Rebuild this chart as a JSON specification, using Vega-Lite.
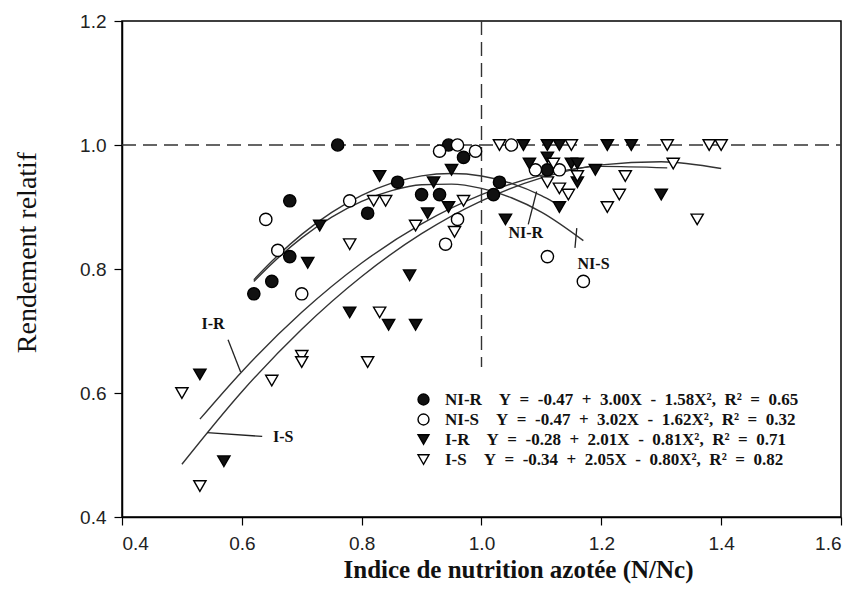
{
  "$schema": "https://vega.github.io/schema/vega-lite/v6.json",
  "width": 719,
  "height": 496,
  "autosize": {"type": "none"},
  "padding": {"left": 122, "top": 21, "right": 18, "bottom": 75},
  "background": "white",
  "config": {
    "view": {"stroke": "black", "strokeWidth": 1.5},
    "axis": {
      "grid": false,
      "domainColor": "black",
      "domainWidth": 1.5,
      "tickColor": "black",
      "tickWidth": 1.2,
      "tickSize": 8,
      "labelFont": "Liberation Sans",
      "labelFontSize": 19,
      "labelColor": "#222",
      "titleFont": "Liberation Serif",
      "titleColor": "#111"
    },
    "legend": {
      "orient": "none", "legendX": 293, "legendY": 370, "padding": 0, "title": null,
      "rowPadding": 2, "symbolSize": 120, "symbolStrokeColor": "black", "symbolStrokeWidth": 1.4,
      "labelFont": "Liberation Serif", "labelFontSize": 17, "labelFontWeight": "bold", "labelColor": "#111",
      "labelOffset": 13, "labelLimit": 600
    }
  },
  "datasets": {
    "pts": [
      {"g": "NI-R", "x": 0.62, "y": 0.76}, {"g": "NI-R", "x": 0.65, "y": 0.78}, {"g": "NI-R", "x": 0.68, "y": 0.82},
      {"g": "NI-R", "x": 0.68, "y": 0.91}, {"g": "NI-R", "x": 0.76, "y": 1.0}, {"g": "NI-R", "x": 0.81, "y": 0.89},
      {"g": "NI-R", "x": 0.86, "y": 0.94}, {"g": "NI-R", "x": 0.9, "y": 0.92}, {"g": "NI-R", "x": 0.93, "y": 0.92},
      {"g": "NI-R", "x": 0.945, "y": 1.0}, {"g": "NI-R", "x": 0.97, "y": 0.98}, {"g": "NI-R", "x": 1.02, "y": 0.92},
      {"g": "NI-R", "x": 1.03, "y": 0.94}, {"g": "NI-R", "x": 1.11, "y": 0.96},
      {"g": "NI-S", "x": 0.64, "y": 0.88}, {"g": "NI-S", "x": 0.66, "y": 0.83}, {"g": "NI-S", "x": 0.7, "y": 0.76},
      {"g": "NI-S", "x": 0.78, "y": 0.91}, {"g": "NI-S", "x": 0.93, "y": 0.99}, {"g": "NI-S", "x": 0.96, "y": 1.0},
      {"g": "NI-S", "x": 0.99, "y": 0.99}, {"g": "NI-S", "x": 0.96, "y": 0.88}, {"g": "NI-S", "x": 0.94, "y": 0.84},
      {"g": "NI-S", "x": 1.05, "y": 1.0}, {"g": "NI-S", "x": 1.09, "y": 0.96}, {"g": "NI-S", "x": 1.13, "y": 0.96},
      {"g": "NI-S", "x": 1.11, "y": 0.82}, {"g": "NI-S", "x": 1.17, "y": 0.78},
      {"g": "I-R", "x": 0.53, "y": 0.63}, {"g": "I-R", "x": 0.57, "y": 0.49}, {"g": "I-R", "x": 0.71, "y": 0.81},
      {"g": "I-R", "x": 0.73, "y": 0.87}, {"g": "I-R", "x": 0.78, "y": 0.73}, {"g": "I-R", "x": 0.845, "y": 0.71},
      {"g": "I-R", "x": 0.89, "y": 0.71}, {"g": "I-R", "x": 0.88, "y": 0.79}, {"g": "I-R", "x": 0.83, "y": 0.95},
      {"g": "I-R", "x": 0.91, "y": 0.89}, {"g": "I-R", "x": 0.92, "y": 0.94}, {"g": "I-R", "x": 0.945, "y": 0.9},
      {"g": "I-R", "x": 0.95, "y": 0.96}, {"g": "I-R", "x": 1.04, "y": 0.88}, {"g": "I-R", "x": 1.07, "y": 1.0},
      {"g": "I-R", "x": 1.08, "y": 0.97}, {"g": "I-R", "x": 1.11, "y": 1.0}, {"g": "I-R", "x": 1.13, "y": 1.0},
      {"g": "I-R", "x": 1.11, "y": 0.98}, {"g": "I-R", "x": 1.15, "y": 0.97}, {"g": "I-R", "x": 1.16, "y": 0.97},
      {"g": "I-R", "x": 1.16, "y": 0.94}, {"g": "I-R", "x": 1.13, "y": 0.9}, {"g": "I-R", "x": 1.19, "y": 0.96},
      {"g": "I-R", "x": 1.21, "y": 1.0}, {"g": "I-R", "x": 1.25, "y": 1.0}, {"g": "I-R", "x": 1.3, "y": 0.92},
      {"g": "I-S", "x": 0.5, "y": 0.6}, {"g": "I-S", "x": 0.53, "y": 0.45}, {"g": "I-S", "x": 0.65, "y": 0.62},
      {"g": "I-S", "x": 0.7, "y": 0.66}, {"g": "I-S", "x": 0.7, "y": 0.65}, {"g": "I-S", "x": 0.78, "y": 0.84},
      {"g": "I-S", "x": 0.81, "y": 0.65}, {"g": "I-S", "x": 0.83, "y": 0.73}, {"g": "I-S", "x": 0.82, "y": 0.91},
      {"g": "I-S", "x": 0.84, "y": 0.91}, {"g": "I-S", "x": 0.89, "y": 0.87}, {"g": "I-S", "x": 0.955, "y": 0.86},
      {"g": "I-S", "x": 0.97, "y": 0.91}, {"g": "I-S", "x": 1.03, "y": 1.0}, {"g": "I-S", "x": 1.11, "y": 0.94},
      {"g": "I-S", "x": 1.12, "y": 0.97}, {"g": "I-S", "x": 1.15, "y": 1.0}, {"g": "I-S", "x": 1.16, "y": 0.95},
      {"g": "I-S", "x": 1.13, "y": 0.93}, {"g": "I-S", "x": 1.145, "y": 0.92}, {"g": "I-S", "x": 1.21, "y": 0.9},
      {"g": "I-S", "x": 1.23, "y": 0.92}, {"g": "I-S", "x": 1.24, "y": 0.95}, {"g": "I-S", "x": 1.31, "y": 1.0},
      {"g": "I-S", "x": 1.32, "y": 0.97}, {"g": "I-S", "x": 1.36, "y": 0.88}, {"g": "I-S", "x": 1.38, "y": 1.0},
      {"g": "I-S", "x": 1.4, "y": 1.0}
    ],
    "curves": [
      {"c": "NI-R", "x": 0.62, "y": 0.7826}, {"c": "NI-R", "x": 0.65, "y": 0.8124}, {"c": "NI-R", "x": 0.7, "y": 0.8558},
      {"c": "NI-R", "x": 0.75, "y": 0.8912}, {"c": "NI-R", "x": 0.8, "y": 0.9188}, {"c": "NI-R", "x": 0.85, "y": 0.9384},
      {"c": "NI-R", "x": 0.9, "y": 0.9502}, {"c": "NI-R", "x": 0.95, "y": 0.954}, {"c": "NI-R", "x": 1.0, "y": 0.95},
      {"c": "NI-R", "x": 1.05, "y": 0.938}, {"c": "NI-R", "x": 1.1, "y": 0.9182}, {"c": "NI-R", "x": 1.12, "y": 0.908},
      {"c": "NI-S", "x": 0.62, "y": 0.7797}, {"c": "NI-S", "x": 0.65, "y": 0.8085}, {"c": "NI-S", "x": 0.7, "y": 0.8502},
      {"c": "NI-S", "x": 0.75, "y": 0.8837}, {"c": "NI-S", "x": 0.8, "y": 0.9092}, {"c": "NI-S", "x": 0.85, "y": 0.9265},
      {"c": "NI-S", "x": 0.9, "y": 0.9358}, {"c": "NI-S", "x": 0.95, "y": 0.9369}, {"c": "NI-S", "x": 1.0, "y": 0.93},
      {"c": "NI-S", "x": 1.05, "y": 0.9149}, {"c": "NI-S", "x": 1.1, "y": 0.8918}, {"c": "NI-S", "x": 1.17, "y": 0.8458},
      {"c": "I-R", "x": 0.53, "y": 0.5578}, {"c": "I-R", "x": 0.6, "y": 0.6344}, {"c": "I-R", "x": 0.7, "y": 0.7301},
      {"c": "I-R", "x": 0.8, "y": 0.8096}, {"c": "I-R", "x": 0.9, "y": 0.8729}, {"c": "I-R", "x": 1.0, "y": 0.92},
      {"c": "I-R", "x": 1.1, "y": 0.9509}, {"c": "I-R", "x": 1.2, "y": 0.9656}, {"c": "I-R", "x": 1.31, "y": 0.9631},
      {"c": "I-S", "x": 0.5, "y": 0.485}, {"c": "I-S", "x": 0.6, "y": 0.602}, {"c": "I-S", "x": 0.7, "y": 0.703},
      {"c": "I-S", "x": 0.8, "y": 0.788}, {"c": "I-S", "x": 0.9, "y": 0.857}, {"c": "I-S", "x": 1.0, "y": 0.91},
      {"c": "I-S", "x": 1.1, "y": 0.947}, {"c": "I-S", "x": 1.2, "y": 0.968}, {"c": "I-S", "x": 1.3, "y": 0.973},
      {"c": "I-S", "x": 1.4, "y": 0.962}
    ],
    "refs": [
      {"x": 0.4, "x2": 1.6, "y": 1.0, "y2": 1.0},
      {"x": 1.0, "x2": 1.0, "y": 1.2, "y2": 0.642}
    ],
    "leaders": [
      {"x": 1.078, "x2": 1.092, "y": 0.872, "y2": 0.925},
      {"x": 1.156, "x2": 1.159, "y": 0.834, "y2": 0.866},
      {"x": 0.577, "x2": 0.598, "y": 0.686, "y2": 0.634},
      {"x": 0.634, "x2": 0.542, "y": 0.530, "y2": 0.536}
    ],
    "labels": [
      {"t": "NI-R", "x": 1.074, "y": 0.858},
      {"t": "NI-S", "x": 1.187, "y": 0.808},
      {"t": "I-R", "x": 0.552, "y": 0.712},
      {"t": "I-S", "x": 0.669, "y": 0.529}
    ]
  },
  "layer": [
    {
      "data": {"name": "refs"},
      "mark": {"type": "rule", "color": "#333", "strokeWidth": 1.4, "strokeDash": [14, 7]},
      "encoding": {
        "x": {"field": "x", "type": "quantitative", "scale": {"domain": [0.4, 1.6], "nice": false, "zero": false},
          "axis": {"values": [0.4, 0.6, 0.8, 1.0, 1.2, 1.4, 1.6], "format": ".1f", "labelPadding": 9,
            "title": "Indice de nutrition azotée (N/Nc)", "titleFontSize": 25, "titleFontWeight": "bold", "titlePadding": 4, "titleX": 396}},
        "x2": {"field": "x2"},
        "y": {"field": "y", "type": "quantitative", "scale": {"domain": [0.4, 1.2], "nice": false, "zero": false},
          "axis": {"values": [0.4, 0.6, 0.8, 1.0, 1.2], "format": ".1f", "labelPadding": 8,
            "title": "Rendement relatif", "titleFontSize": 28, "titleFontWeight": "normal", "titlePadding": 38, "titleY": 231}},
        "y2": {"field": "y2"}
      }
    },
    {
      "data": {"name": "curves"},
      "mark": {"type": "line", "color": "#333", "strokeWidth": 1.4, "interpolate": "monotone"},
      "encoding": {
        "x": {"field": "x", "type": "quantitative"},
        "y": {"field": "y", "type": "quantitative"},
        "detail": {"field": "c"}
      }
    },
    {
      "data": {"name": "leaders"},
      "mark": {"type": "rule", "color": "#222", "strokeWidth": 1.3},
      "encoding": {
        "x": {"field": "x", "type": "quantitative"},
        "x2": {"field": "x2"},
        "y": {"field": "y", "type": "quantitative"},
        "y2": {"field": "y2"}
      }
    },
    {
      "data": {"name": "labels"},
      "mark": {"type": "text", "font": "Liberation Serif", "fontSize": 16, "fontWeight": "bold", "color": "#111"},
      "encoding": {
        "x": {"field": "x", "type": "quantitative"},
        "y": {"field": "y", "type": "quantitative"},
        "text": {"field": "t"}
      }
    },
    {
      "data": {"name": "pts"},
      "mark": {"type": "point", "strokeWidth": 1.4, "size": 150, "opacity": 1},
      "encoding": {
        "x": {"field": "x", "type": "quantitative"},
        "y": {"field": "y", "type": "quantitative"},
        "shape": {"field": "g", "type": "nominal",
          "scale": {"domain": ["NI-R", "NI-S", "I-R", "I-S"], "range": ["circle", "circle", "triangle-down", "triangle-down"]},
          "legend": {
            "labelExpr": "datum.label == 'NI-R' ? 'NI-R\u2002\u2002Y\u2002=\u2002-0.47\u2002+\u20023.00X\u2002-\u20021.58X²,\u2002R²\u2002=\u20020.65' : datum.label == 'NI-S' ? 'NI-S\u2002\u2002Y\u2002=\u2002-0.47\u2002+\u20023.02X\u2002-\u20021.62X²,\u2002R²\u2002=\u20020.32' : datum.label == 'I-R' ? 'I-R\u2002\u2002Y\u2002=\u2002-0.28\u2002+\u20022.01X\u2002-\u20020.81X²,\u2002R²\u2002=\u20020.71' : 'I-S\u2002\u2002Y\u2002=\u2002-0.34\u2002+\u20022.05X\u2002-\u20020.80X²,\u2002R²\u2002=\u20020.82'"}},
        "fill": {"field": "g", "type": "nominal",
          "scale": {"domain": ["NI-R", "NI-S", "I-R", "I-S"], "range": ["#111", "white", "#111", "white"]},
          "legend": {
            "labelExpr": "datum.label == 'NI-R' ? 'NI-R\u2002\u2002Y\u2002=\u2002-0.47\u2002+\u20023.00X\u2002-\u20021.58X²,\u2002R²\u2002=\u20020.65' : datum.label == 'NI-S' ? 'NI-S\u2002\u2002Y\u2002=\u2002-0.47\u2002+\u20023.02X\u2002-\u20021.62X²,\u2002R²\u2002=\u20020.32' : datum.label == 'I-R' ? 'I-R\u2002\u2002Y\u2002=\u2002-0.28\u2002+\u20022.01X\u2002-\u20020.81X²,\u2002R²\u2002=\u20020.71' : 'I-S\u2002\u2002Y\u2002=\u2002-0.34\u2002+\u20022.05X\u2002-\u20020.80X²,\u2002R²\u2002=\u20020.82'"}},
        "stroke": {"field": "g", "type": "nominal",
          "scale": {"domain": ["NI-R", "NI-S", "I-R", "I-S"], "range": ["black", "black", "black", "black"]},
          "legend": {
            "labelExpr": "datum.label == 'NI-R' ? 'NI-R\u2002\u2002Y\u2002=\u2002-0.47\u2002+\u20023.00X\u2002-\u20021.58X²,\u2002R²\u2002=\u20020.65' : datum.label == 'NI-S' ? 'NI-S\u2002\u2002Y\u2002=\u2002-0.47\u2002+\u20023.02X\u2002-\u20021.62X²,\u2002R²\u2002=\u20020.32' : datum.label == 'I-R' ? 'I-R\u2002\u2002Y\u2002=\u2002-0.28\u2002+\u20022.01X\u2002-\u20020.81X²,\u2002R²\u2002=\u20020.71' : 'I-S\u2002\u2002Y\u2002=\u2002-0.34\u2002+\u20022.05X\u2002-\u20020.80X²,\u2002R²\u2002=\u20020.82'"}}
      }
    }
  ]
}
